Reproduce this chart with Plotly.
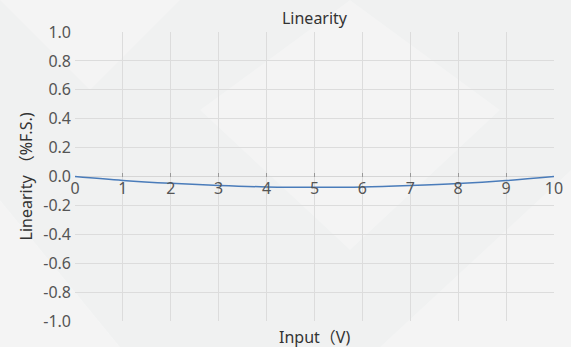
import plotly.graph_objects as go

x_vals = [0, 1, 2, 3, 4, 5, 6, 7, 8, 9, 10]
linearity = [0.0, -0.027, -0.047, -0.062, -0.072, -0.075, -0.073, -0.063, -0.049, -0.028, 0.0]
y_ticks = [-1.0, -0.8, -0.6, -0.4, -0.2, 0.0, 0.2, 0.4, 0.6, 0.8, 1.0]
y_labels = ["%.1f" % v for v in y_ticks]

font_fam = "Noto Sans, Noto Sans CJK SC, sans-serif"
W, H = 571, 347
ML, MR, MT, MB = 75, 17, 32, 26
PW, PH = W - ML - MR, H - MT - MB

fig = go.Figure()
fig.add_trace(go.Scatter(x=x_vals, y=linearity, mode="lines", line=dict(color="#4a7cba", width=1.5),
                         line_shape="spline", showlegend=False, xaxis="x", yaxis="y"))
fig.add_trace(go.Scatter(x=x_vals, y=linearity, mode="lines", line=dict(width=0), opacity=0,
                         showlegend=False, xaxis="x2", yaxis="y", hoverinfo="skip"))

grid = "#dcdcdc"
fig.update_layout(
    width=W, height=H,
    margin=dict(l=ML, r=MR, t=MT, b=MB, autoexpand=False),
    paper_bgcolor="#f0f1f1",
    plot_bgcolor="rgba(0,0,0,0)",
    font=dict(family=font_fam, color="#555555"),
    title=dict(text="Linearity", xref="paper", x=0.5, xanchor="center", y=1 - 18 / H, yanchor="middle",
               font=dict(size=16, color="#333333")),
    xaxis=dict(range=[0, 10], tickvals=x_vals, showticklabels=False, showgrid=True, gridcolor=grid,
               gridwidth=1, zeroline=False, showline=False, ticks="", automargin=False),
    xaxis2=dict(range=[0, 10], overlaying="x", anchor="free", position=0.5, side="bottom",
                tickvals=x_vals, ticktext=[str(v) for v in x_vals], showgrid=False, zeroline=False,
                showline=False, ticks="inside", ticklen=4, tickcolor="#999999", automargin=False,
                tickfont=dict(size=16, color="#555555")),
    yaxis=dict(range=[-1, 1], tickvals=y_ticks, ticktext=y_labels, showgrid=True, gridcolor=grid,
               gridwidth=1, zeroline=True, zerolinecolor="#d6d6d6", zerolinewidth=1, showline=False,
               tickfont=dict(size=16, color="#555555"), ticks="", ticklabelstandoff=3, automargin=False),
)
fig.add_annotation(text="Input（V)", xref="paper", yref="paper", x=0.5, y=-16 / PH, yanchor="middle",
                   showarrow=False, font=dict(size=16, color="#333333"))
fig.add_annotation(text="Linearity （%F.S.)", xref="paper", yref="paper", x=-50 / PW, y=0.5,
                   textangle=-90, showarrow=False, xanchor="center", yanchor="middle",
                   font=dict(size=16, color="#333333"))

# subtle background diamonds (pixel coordinates converted to paper fractions)
shapes_px = [
    [(0, 0), (180, 0), (90, 90)],
    [(380, 347), (571, 170), (571, 347)],
    [(200, 110), (350, 0), (500, 110), (350, 250)],
    [(0, 200), (120, 347), (0, 347)],
]
for pts in shapes_px:
    coords = [((px - ML) / PW, 1 - (py - MT) / PH) for px, py in pts]
    path = "M " + " L ".join("%f %f" % c for c in coords) + " Z"
    fig.add_shape(type="path", path=path, xref="paper", yref="paper", layer="below",
                  line=dict(width=0), fillcolor="rgba(255,255,255,0.25)")

fig.write_html("out.html", config={"displayModeBar": False},
               post_script="document.body.style.margin='0';document.body.style.overflow='hidden';")
